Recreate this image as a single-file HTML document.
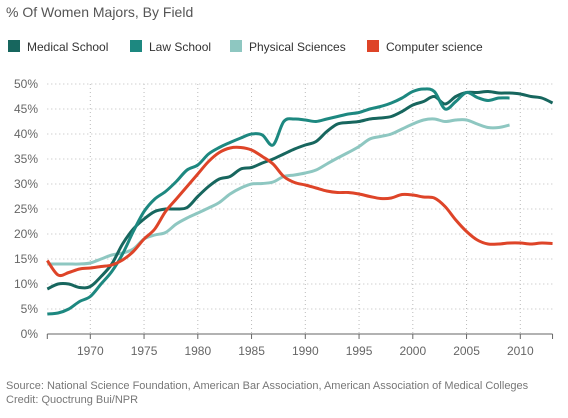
<!DOCTYPE html>
<html><head><meta charset="utf-8"><style>
body{margin:0;width:568px;height:418px;background:#fff;font-family:"Liberation Sans",sans-serif;overflow:hidden;position:relative}
.t{position:absolute;color:#555}
</style></head><body>
<div class="t" style="left:6px;top:4px;font-size:14px;color:#555">% Of Women Majors, By Field</div>
<svg width="568" height="418" style="position:absolute;left:0;top:0" id="c"></svg>
<div class="t" style="left:6px;top:380px;font-size:11px;color:#777">Source: National Science Foundation, American Bar Association, American Association of Medical Colleges</div>
<div class="t" style="left:6px;top:394px;font-size:11px;color:#777">Credit: Quoctrung Bui/NPR</div>
<script>
const startYear=1966;
const medical=[9,10,10,9.3,9.5,11.5,14,18,21,23,24.5,25,25,25.3,27.5,29.5,31,31.5,33,33.3,34.2,35,36,37,37.8,38.5,40.5,42,42.3,42.5,43,43.2,43.5,44.5,45.8,46.5,47.5,46,47.5,48.3,48.3,48.5,48.2,48.2,48,47.5,47.2,46.2];
const law=[4,4.2,5,6.5,7.5,10,12.5,16,20.5,24.5,27,28.5,30.5,32.8,33.8,36,37.3,38.3,39.2,40,39.8,37.8,42.5,43,42.8,42.5,43,43.5,44,44.3,45,45.5,46.2,47.2,48.5,49,48.5,45,46.5,48.3,47.3,46.7,47.2,47.2];
const physical=[14,14,14,14,14.2,15,15.8,16.2,17,19,19.8,20.3,22,23.2,24.2,25.2,26.3,28,29.2,30,30.1,30.4,31.5,31.8,32.2,32.8,34,35.2,36.3,37.5,39,39.5,40,41,42,42.8,43,42.5,42.8,42.8,42,41.3,41.3,41.8];
const cs=[14.7,11.8,12.3,13,13.2,13.5,13.8,14.8,16.5,19,21,24.5,27,29.5,32,34.5,36.3,37.2,37.3,36.8,35.5,34,31.5,30.3,29.8,29.2,28.6,28.3,28.3,28,27.5,27.1,27.2,27.9,27.8,27.4,27.2,25.5,22.8,20.5,18.8,18,18,18.2,18.2,18,18.2,18.1];
const seriesNames=["Medical School","Law School","Physical Sciences","Computer science"];
const yTicks=[0,5,10,15,20,25,30,35,40,45,50];
const xTicks=[1970,1975,1980,1985,1990,1995,2000,2005,2010];
const colors=["#17665e","#1d8880","#8ec7c1","#de4428"];
const X=y=>90.3+(y-1970)*10.75;
const Y=v=>334-v*5;
const svg=document.getElementById('c');const NS='http://www.w3.org/2000/svg';
function mk(t,a,p){const e=document.createElementNS(NS,t);for(const k in a)e.setAttribute(k,a[k]);(p||svg).appendChild(e);return e;}
const x0=X(1966),x1=X(2013);
yTicks.forEach(v=>{
 if(v>0){const l=mk('line',{x1:x0,x2:x1,y1:Y(v),y2:Y(v),stroke:'#bbb','stroke-dasharray':'1,3'});
 
 }
 const t=mk('text',{x:38,y:Y(v)+4,'text-anchor':'end','font-size':12,fill:'#666'});t.textContent=v+'%';
 
 
});
xTicks.forEach(y=>{
 const l=mk('line',{x1:X(y),x2:X(y),y1:Y(50),y2:Y(0),stroke:'#bbb','stroke-dasharray':'1,3'});
 
 
 mk('line',{x1:X(y),x2:X(y),y1:334,y2:339,stroke:'#666'});
 const t=mk('text',{x:X(y),y:355,'text-anchor':'middle','font-size':12,fill:'#666'});t.textContent=y;
 
 
});
[x0,x1].forEach(x=>mk('line',{x1:x,x2:x,y1:334,y2:339,stroke:'#666'}));
const ax=mk('line',{x1:x0,x2:x1,y1:334,y2:334,stroke:'#666'});


function path(vals){const p=vals.map((v,i)=>[X(startYear+i),Y(v)]);let d='M'+p[0];
 for(let i=0;i<p.length-1;i++){const a=p[Math.max(0,i-1)],b=p[i],c=p[i+1],e=p[Math.min(p.length-1,i+2)];
 d+='C'+(b[0]+(c[0]-a[0])/6)+','+(b[1]+(c[1]-a[1])/6)+' '+(c[0]-(e[0]-b[0])/6)+','+(c[1]-(e[1]-b[1])/6)+' '+c[0]+','+c[1];}return d;}
const names=['physical-line','medical-line','law-line','cs-line'];
[[physical,2],[medical,0],[law,1],[cs,3]].forEach(([s,ci],k)=>{
 const p=mk('path',{d:path(s),fill:'none',stroke:colors[ci],'stroke-width':3,'stroke-linejoin':'round'});
 
 
});
const lx=[8,130,230,367];
seriesNames.forEach((n,i)=>{
 const g=mk('g',{});
 
 
 mk('rect',{x:lx[i],y:40,width:12,height:12,fill:colors[i]},g);
 const t=mk('text',{x:lx[i]+19,y:51,'font-size':12,fill:'#333'},g);t.textContent=n;
});
</script>
</body></html>
